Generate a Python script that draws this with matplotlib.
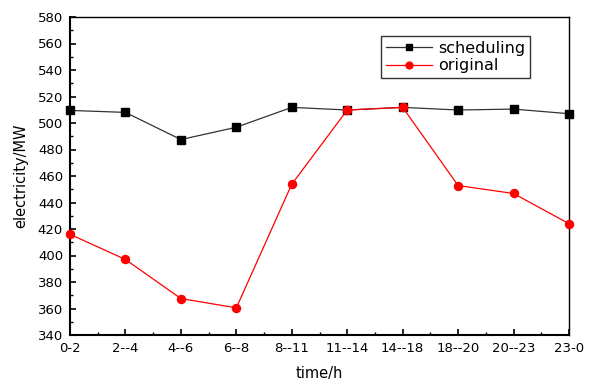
import matplotlib.pyplot as plt
from matplotlib.ticker import MultipleLocator

periods = ['0-2', '2--4', '4--6', '6--8', '8--11', '11--14', '14--18', '18--20', '20--23', '23-0']
scheduling = [509.5, 508, 487.5, 496.8, 511.8, 509.8, 511.8, 509.8, 510.5, 507]
original = [416, 397, 367.5, 360.5, 453.8, 509.8, 511.8, 452.8, 446.8, 424]

plt.rcParams['font.family'] = ['DejaVu Sans']

fig = plt.figure(figsize=(5.97, 3.81), dpi=100)
ax = fig.add_axes([70 / 597, 1 - 335 / 381, 499 / 597, 318 / 381])

x = list(range(len(periods)))
ax.plot(x, scheduling, color='#333333', lw=0.9, marker='s', ms=5.2,
        mfc='black', mec='black', label='scheduling', clip_on=False, zorder=3)
ax.plot(x, original, color='red', lw=0.9, marker='o', ms=5.8,
        mfc='red', mec='red', label='original', clip_on=False, zorder=3)

ax.set_xlim(0, len(periods) - 1)
ax.set_ylim(340, 580)
ax.set_xticks(x)
ax.set_xticklabels(periods)
ax.xaxis.set_minor_locator(MultipleLocator(0.5))
ax.yaxis.set_major_locator(MultipleLocator(20))
ax.yaxis.set_minor_locator(MultipleLocator(10))
ax.tick_params(which='major', direction='in', length=4, width=1.2, labelsize=9.5, pad=5)
ax.tick_params(which='minor', direction='in', length=2, width=1)
ax.tick_params(top=False, right=False, which='both')

for side in ['left', 'bottom']:
    ax.spines[side].set_linewidth(1.5)
for side in ['top', 'right']:
    ax.spines[side].set_linewidth(1.0)

ax.set_xlabel('time/h', fontsize=10.5, labelpad=8)
ax.set_ylabel('electricity/MW', fontsize=10.5, labelpad=7)

leg = ax.legend(loc='upper left', bbox_to_anchor=(311 / 499, 1 - 19 / 318),
                fontsize=11.5, frameon=True, fancybox=False, edgecolor='black',
                handlelength=2.9, borderpad=0.3, labelspacing=0.15, handletextpad=0.4,
                borderaxespad=0, markerscale=0.85)
leg.get_frame().set_linewidth(1.0)

fig.savefig('out.png', dpi=100)
